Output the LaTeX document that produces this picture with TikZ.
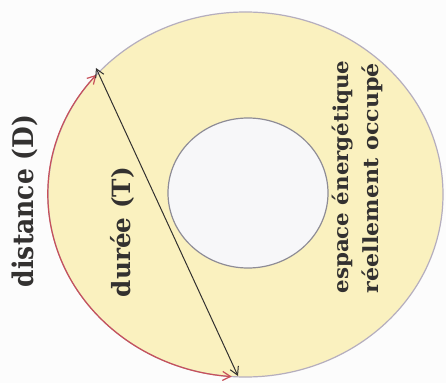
\documentclass[tikz,border=0pt]{standalone}
\usepackage{fontspec}
\usepackage{graphicx}
\setmainfont{DejaVu Serif}
\usetikzlibrary{arrows.meta,calc}
\definecolor{ringfill}{HTML}{FAF1BF}
\definecolor{ringline}{HTML}{B5AEBE}
\definecolor{holeline}{HTML}{8E8C96}
\definecolor{holefill}{HTML}{F7F7F9}
\definecolor{inkgray}{HTML}{333130}
\definecolor{arcred}{HTML}{C8505A}
\tikzset{
  lbl/.style={rotate=90, text=inkgray, inner sep=0pt, font=\bfseries},
  barbs/.style={<->, >={Straight Barb[length=8pt,width=9pt]}}
}
\begin{document}
\begin{tikzpicture}[x=1pt,y=1pt]
\useasboundingbox (0,0) rectangle (446,383);
\fill[white!98!gray] (0,0) rectangle (446,383);
\coordinate (C) at (245.5,188.5);
\coordinate (H) at (248,190);
\draw[ringline, line width=1.2pt, fill=ringfill] (C) ellipse [x radius=197.5, y radius=182.5];
\draw[holeline, line width=1.2pt, fill=holefill] (H) ellipse [x radius=80, y radius=75];
\coordinate (R1) at ($(C)+(139:197.5 and 182.5)$);
\draw[arcred, line width=1.2pt, barbs] (R1) arc[start angle=139, end angle=266, x radius=197.5, y radius=182.5];
\coordinate (A) at (96,315);
\coordinate (B) at (238,7);
\draw[inkgray, line width=1pt, barbs] (A) -- (B);
\node[lbl] (dist) at (25,182) {\resizebox*{172pt}{26pt}{distance (D)}};
\node[lbl] (duree) at (122,151) {\resizebox*{130pt}{24pt}{durée (T)}};
\node[lbl] (esp1) at (342.5,206) {\resizebox*{233pt}{21pt}{espace énergétique}};
\node[lbl] (esp2) at (372.5,205) {\resizebox*{230pt}{21pt}{réellement occupé}};
\end{tikzpicture}
\end{document}
